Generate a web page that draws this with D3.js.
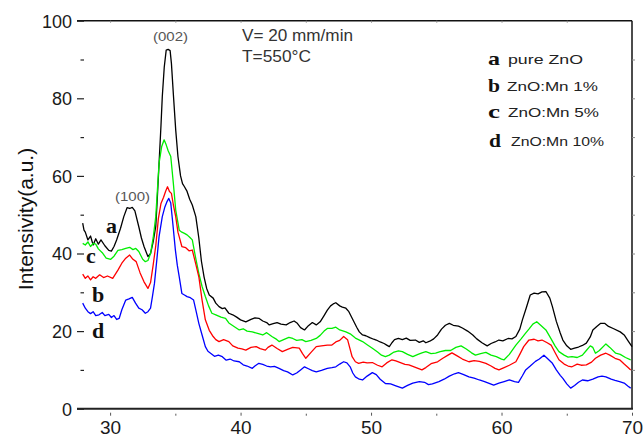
<html>
<head>
<script src="https://d3js.org/d3.v7.min.js"></script>
<style>
  body { margin: 0; background: #fff; }
  text { font-family: "Liberation Sans", Arial, sans-serif; }
  .letter { font-family: "Liberation Serif", "Times New Roman", serif; font-weight: bold; fill: #111; }
</style>
</head>
<body>
<svg width="644" height="439" id="chart"></svg>
<script>
  // XRD patterns, 2theta (deg) vs intensity (a.u.)
  var pureZnO = [[27.9,47.8],[28.0,46],[28.1,45.5],[28.3,43.5],[28.5,44.5],[28.7,42.2],[28.9,43.8],[29.1,42.4],[29.3,43.5],[29.6,42],[29.9,40.8],[30.1,40.6],[30.3,41.8],[30.5,43.5],[30.8,46.5],[31.05,49.5],[31.3,51.8],[31.5,51.6],[31.7,51.9],[31.9,51],[32.2,46.9],[32.4,44],[32.6,41.8],[32.9,39.2],[33.1,40],[33.3,43],[33.5,47],[33.6,53],[33.75,63],[33.9,73],[34.0,80.4],[34.15,88],[34.3,92.4],[34.45,92.6],[34.6,92.3],[34.7,89],[34.85,81],[35.03,71.8],[35.2,65],[35.4,60],[35.55,58],[35.7,57.2],[35.9,56],[36.1,54],[36.3,52.5],[36.57,49.5],[36.8,44],[37.0,38],[37.2,34],[37.4,31],[37.6,29.3],[37.9,28.5],[38.1,27.2],[38.35,26.3],[38.6,25.8],[38.8,26],[39.1,24.6],[39.4,24.2],[39.7,23.6],[40.0,22.9],[40.4,22.4],[40.8,23],[41.1,23.4],[41.4,23.3],[41.7,22.6],[42.0,22.2],[42.2,21.6],[42.5,21.9],[42.8,22.2],[43.1,21.8],[43.5,21.6],[43.8,22.2],[44.1,22.6],[44.35,22],[44.6,20.9],[44.9,20.3],[45.2,21.4],[45.5,22.2],[45.8,21.6],[46.1,22.4],[46.4,24],[46.65,25.4],[46.9,26.5],[47.1,27],[47.3,27.3],[47.6,26.5],[47.8,26.2],[48.07,25.9],[48.3,25],[48.6,23],[48.9,21],[49.1,19.8],[49.35,19],[49.6,18.8],[49.9,18.3],[50.2,17.9],[50.4,17.7],[50.7,17.2],[51.0,16.8],[51.2,16.4],[51.4,16],[51.6,17],[51.8,17.8],[52.1,18.1],[52.4,17.8],[52.7,18.2],[53.0,17.6],[53.4,17.7],[53.7,17.1],[54.0,17.5],[54.2,17],[54.5,17.4],[54.8,18],[55.1,19],[55.4,20.5],[55.7,21.5],[56.0,22],[56.3,21.5],[56.7,21.3],[57.0,20.8],[57.4,20],[57.8,19],[58.1,18],[58.5,17],[58.9,16.2],[59.2,16.8],[59.5,17.2],[59.8,17.7],[60.1,17.5],[60.5,18.1],[60.8,18],[61.1,18.6],[61.4,20.5],[61.6,22.9],[61.9,26],[62.2,29.3],[62.5,29.8],[62.8,29.6],[63.1,30.1],[63.4,30.2],[63.7,28.5],[63.9,26.3],[64.2,22.5],[64.5,19.5],[64.7,17.7],[65.0,16.2],[65.3,15.3],[65.6,15.6],[65.9,15.9],[66.2,16.3],[66.5,16.9],[66.8,18.5],[67.0,20.3],[67.3,21.2],[67.6,22],[67.9,22],[68.2,21.2],[68.6,20.6],[69.1,19.8],[69.4,19],[69.7,17.5],[70.0,16]];

  var mn1 = [[27.9,34.7],[28.1,33.6],[28.3,34.2],[28.5,33.2],[28.7,34],[28.9,33.6],[29.2,34.5],[29.5,33.8],[29.8,34.2],[30.2,33.6],[30.6,35.7],[30.9,37.5],[31.2,38.8],[31.5,39.6],[31.75,38.5],[32.0,37.9],[32.3,35],[32.6,32.7],[32.9,31],[33.1,32.5],[33.3,37],[33.5,42],[33.7,49],[33.9,52.9],[34.1,54.5],[34.25,56],[34.4,57.2],[34.55,56],[34.7,55.5],[34.85,52.5],[35.03,49.5],[35.2,45.5],[35.3,44.3],[35.5,41.8],[35.8,41.5],[36.05,40.7],[36.3,40.9],[36.55,37.5],[36.8,34],[37.05,28],[37.3,22.9],[37.6,20.2],[37.9,18.6],[38.1,17.8],[38.35,17.3],[38.7,17.8],[39.1,17.3],[39.4,16.2],[39.8,15.6],[40.1,15.4],[40.4,15.1],[40.8,15.8],[41.2,16],[41.5,15.5],[41.9,15.1],[42.1,15.8],[42.4,16.4],[42.8,15.5],[43.2,14.7],[43.6,15.3],[44.0,15.8],[44.5,15.6],[44.75,14.2],[45.0,13],[45.4,14.5],[45.8,16],[46.2,16.2],[46.65,16.4],[47.0,16.4],[47.3,17.2],[47.6,17.6],[47.9,18.6],[48.2,17.8],[48.55,13.4],[48.8,12.1],[49.05,11.7],[49.4,12],[49.7,11.8],[50.1,11.9],[50.5,11.2],[50.85,10.8],[51.2,11.8],[51.6,12.6],[51.9,12.3],[52.3,11.8],[52.6,11.4],[52.9,11.3],[53.3,10.8],[53.6,10.4],[53.9,10],[54.2,10.6],[54.6,11.6],[55.1,12.1],[55.5,13],[55.9,13.8],[56.2,14.4],[56.6,13.6],[57.0,12.8],[57.5,12.1],[57.9,12.4],[58.3,12.2],[58.8,11.7],[59.2,11],[59.5,10.4],[59.8,10],[60.2,10.6],[60.6,11.2],[61.1,12.1],[61.4,14],[61.7,16],[62.1,17.7],[62.5,17.9],[62.8,17.5],[63.1,17.7],[63.5,17],[63.8,16.4],[64.1,14.5],[64.4,12.6],[64.8,11.5],[65.1,11],[65.4,10.8],[65.8,11.5],[66.1,11.2],[66.5,11.3],[66.9,12],[67.2,13],[67.6,13.8],[68.0,14.3],[68.3,13.8],[68.7,13],[69.05,12.6],[69.4,11.5],[69.7,10.6],[69.9,10]];

  var mn5 = [[27.9,42.6],[28.1,42.2],[28.3,43],[28.5,41.8],[28.7,42.6],[28.9,42.4],[29.1,41.2],[29.4,40.2],[29.7,38.8],[30.05,38.5],[30.3,39.3],[30.6,40.8],[30.9,41],[31.2,41.3],[31.5,41.6],[31.75,41],[31.97,41.3],[32.2,40.5],[32.5,38.5],[32.7,37.9],[32.9,38.2],[33.1,40],[33.3,44],[33.5,49.5],[33.75,63.2],[33.95,67.5],[34.14,69.3],[34.3,68],[34.45,66.5],[34.65,65],[34.85,58],[35.03,51.2],[35.3,46],[35.5,45.5],[35.7,45.2],[35.9,44.8],[36.1,44.2],[36.3,43.5],[36.55,39],[36.8,34.9],[37.05,31.5],[37.3,28.9],[37.55,26.5],[37.8,24.6],[38.1,24.2],[38.5,23.6],[38.85,23.3],[39.1,22.1],[39.5,21.2],[39.9,20.3],[40.2,20.6],[40.5,20],[40.9,19.8],[41.3,19.4],[41.7,19],[42.0,19.6],[42.4,18.6],[42.7,18],[42.95,17.3],[43.3,17.8],[43.7,18.4],[44.0,18.1],[44.3,17.6],[44.7,17.8],[45.0,17.3],[45.4,17.6],[45.8,18.1],[46.1,18.9],[46.4,20],[46.65,20.7],[47.0,20.7],[47.3,21],[47.6,20.3],[48.07,19.8],[48.4,19.3],[48.8,18.2],[49.35,17.3],[49.7,16.5],[50.1,15.6],[50.5,14.6],[50.8,13.8],[51.1,13.4],[51.4,13.8],[51.7,14.5],[52.1,14.9],[52.4,14.7],[52.8,14],[53.2,13.4],[53.6,14],[53.9,14.4],[54.2,14.7],[54.6,14.2],[54.95,14.3],[55.3,14.7],[55.7,15],[56.1,15],[56.5,15.8],[56.9,16.2],[57.3,15.4],[57.7,14.4],[58.0,13.8],[58.4,14.2],[58.8,14.5],[59.2,13.8],[59.6,13.4],[60.0,12.8],[60.2,12.6],[60.6,14],[61.1,16.4],[61.5,18],[61.8,19.3],[62.1,20.5],[62.4,21.8],[62.7,22.4],[63.0,21.5],[63.4,20.3],[63.8,18],[64.1,16.2],[64.4,14.7],[64.8,13.8],[65.1,13.3],[65.4,13.4],[65.8,13.2],[66.2,13.8],[66.5,15],[66.8,16.2],[67.0,15.8],[67.2,14.3],[67.5,15],[68.0,16.7],[68.3,15.8],[68.75,14.3],[69.1,14],[69.5,13.2],[69.9,12.6]];

  var mn10 = [[27.9,27.2],[28.1,25.9],[28.3,25],[28.5,24.5],[28.7,25],[28.9,24],[29.15,24.2],[29.4,24.8],[29.6,24],[29.9,24.3],[30.1,23.5],[30.3,24],[30.5,23],[30.7,23.3],[30.9,25.5],[31.2,28],[31.45,28.3],[31.7,28.7],[31.95,27.2],[32.2,25.9],[32.45,25.5],[32.7,24.6],[32.9,25],[33.1,25.9],[33.25,29],[33.4,32.3],[33.6,39],[33.75,44.3],[34.0,49.5],[34.2,52],[34.35,53.3],[34.5,54.2],[34.65,53],[34.8,48],[35.0,41],[35.15,37],[35.3,34],[35.5,29.7],[35.7,29.3],[35.9,28.9],[36.15,28.6],[36.4,28],[36.6,25],[36.8,22],[37.05,19],[37.3,16],[37.5,14.8],[37.7,14.3],[38.0,13.5],[38.3,13.8],[38.6,13.4],[38.9,12.5],[39.2,12.8],[39.5,12.3],[39.9,12.1],[40.2,11.3],[40.5,11],[40.9,10.4],[41.1,11],[41.4,11.7],[41.7,11.4],[42.0,11],[42.3,10.8],[42.6,10.9],[42.95,10.4],[43.3,9.8],[43.6,9.5],[44.0,8.7],[44.3,9.2],[44.6,10],[44.9,10.8],[45.2,10.3],[45.5,9.8],[45.8,9.5],[46.2,9.9],[46.65,10.4],[47.0,10.6],[47.3,10.8],[47.6,11.5],[47.9,12.1],[48.15,11.8],[48.4,10.8],[48.6,9.2],[48.8,8.2],[49.1,7.6],[49.35,7.4],[49.7,8.4],[50.1,9.3],[50.4,8.8],[50.7,7.6],[51.1,6.5],[51.5,6.4],[51.9,5.9],[52.4,5.3],[52.8,6],[53.2,6.6],[53.7,7],[54.1,6.8],[54.4,6.2],[54.7,6.4],[55.2,7],[55.6,7.6],[56.0,8.4],[56.4,9],[56.7,9.3],[57.1,8.8],[57.5,8.2],[57.9,7.9],[58.3,7.4],[58.7,7],[59.0,6.6],[59.4,6.1],[59.8,6.6],[60.2,7],[60.6,7.4],[61.0,7],[61.3,6.8],[61.6,8.5],[61.85,10],[62.2,11],[62.6,12.2],[62.9,12.8],[63.25,13.8],[63.5,13],[63.9,11.7],[64.2,10],[64.5,8.6],[64.7,7.8],[65.0,6.4],[65.3,5.3],[65.6,6],[65.9,6.8],[66.2,7.4],[66.6,7.2],[67.0,7.6],[67.4,8.2],[67.7,8.4],[68.0,8.2],[68.4,7.6],[68.7,7.3],[69.05,7],[69.4,6.6],[69.7,5.8],[69.9,5.3]];

  var xTicks = [30, 40, 50, 60, 70];
  var yTicks = [0, 20, 40, 60, 80, 100];
  var legendKeys = ["a", "b", "c", "d"];
  var legendNames = ["pure ZnO", "ZnO:Mn 1%", "ZnO:Mn 5%", "ZnO:Mn 10%"];

  var svg = d3.select("#chart");
  var x = d3.scaleLinear().domain([28, 70]).range([84, 632]);
  var y = d3.scaleLinear().domain([0, 100]).range([408.7, 20.7]);

  // frame (no left spine in the original)
  svg.append("line").attr("x1", 77).attr("x2", 632).attr("y1", y(100)).attr("y2", y(100))
    .attr("stroke", "#111").attr("stroke-width", 1.5);
  svg.append("line").attr("x1", 632).attr("x2", 632).attr("y1", y(100)).attr("y2", y(0))
    .attr("stroke", "#111").attr("stroke-width", 1.5);

  // left axis
  var yAxis = svg.append("g").attr("transform", "translate(84,0)")
    .call(d3.axisLeft(y).tickValues(yTicks).tickSize(7).tickPadding(5).tickFormat(d3.format("d")));
  yAxis.select(".domain").remove();
  yAxis.selectAll("line").attr("stroke", "#222").attr("stroke-width", 1.2);
  yAxis.selectAll("text").attr("font-size", 18).attr("fill", "#1a1a1a")
    .attr("font-family", "Liberation Sans, Arial, sans-serif").attr("dy", "0.36em");
  var yMinor = svg.append("g").attr("transform", "translate(84,0)")
    .call(d3.axisLeft(y).tickValues([10, 30, 50, 70, 90]).tickSize(3.5).tickFormat(""));
  yMinor.select(".domain").remove();
  yMinor.selectAll("line").attr("stroke", "#222").attr("stroke-width", 1.2);

  // right inner ticks
  var yRight = svg.append("g").attr("transform", "translate(632,0)")
    .call(d3.axisLeft(y).tickValues([10, 20, 30, 40, 50, 60, 70, 80, 90]).tickSize(3).tickFormat(""));
  yRight.select(".domain").remove();
  yRight.selectAll("line").attr("stroke", "#888").attr("transform", "translate(3,0)");

  // bottom axis
  var xAxis = svg.append("g").attr("transform", "translate(0," + y(0) + ")")
    .call(d3.axisBottom(x).tickValues(xTicks).tickSize(3).tickPadding(9).tickFormat(d3.format("d")));
  xAxis.select(".domain").remove();
  xAxis.selectAll("line").attr("stroke", "#555").attr("transform", "translate(0,4)");
  xAxis.selectAll("text").attr("font-size", 19).attr("fill", "#1a1a1a")
    .attr("font-family", "Liberation Sans, Arial, sans-serif");
  var xMinor = svg.append("g").attr("transform", "translate(0," + y(0) + ")")
    .call(d3.axisBottom(x).tickValues([35, 45, 55, 65]).tickSize(2).tickFormat(""));
  xMinor.select(".domain").remove();
  xMinor.selectAll("line").attr("stroke", "#555").attr("transform", "translate(0,5)");
  svg.append("line").attr("x1", 77).attr("x2", 633).attr("y1", y(0)).attr("y2", y(0))
    .attr("stroke", "#222").attr("stroke-width", 2);

  // top inner ticks
  var xTop = svg.append("g").attr("transform", "translate(0," + y(100) + ")")
    .call(d3.axisBottom(x).tickValues([30, 35, 40, 45, 50, 55, 60, 65]).tickSize(2).tickFormat(""));
  xTop.select(".domain").remove();
  xTop.selectAll("line").attr("stroke", "#888");

  // axis title
  svg.append("text").attr("transform", "translate(33,219) rotate(-90)")
    .attr("text-anchor", "middle").attr("font-size", 21).attr("fill", "#111")
    .text("Intensivity(a.u.)");

  // curves
  var line = d3.line().x(function(d) { return x(d[0]); }).y(function(d) { return y(d[1]); });
  var series = [
    { data: pureZnO, color: "#000000" },
    { data: mn5, color: "#00ee00" },
    { data: mn1, color: "#ff0000" },
    { data: mn10, color: "#0000ff" }
  ];
  svg.selectAll("path.curve").data(series).enter().append("path")
    .attr("class", "curve")
    .attr("d", function(d) { return line(d.data); })
    .attr("fill", "none")
    .attr("stroke", function(d) { return d.color; })
    .attr("stroke-width", 1.3)
    .attr("stroke-linejoin", "round");

  // peak labels (the source text is stretched sideways)
  svg.append("text").attr("x", 115).attr("y", 201).attr("font-size", 12)
    .attr("textLength", 35).attr("lengthAdjust", "spacingAndGlyphs").attr("fill", "#555").text("(100)");
  svg.append("text").attr("x", 153).attr("y", 41).attr("font-size", 12)
    .attr("textLength", 35).attr("lengthAdjust", "spacingAndGlyphs").attr("fill", "#555").text("(002)");

  // conditions
  svg.append("text").attr("x", 242).attr("y", 41).attr("font-size", 16).attr("fill", "#333")
    .attr("textLength", 111).attr("lengthAdjust", "spacingAndGlyphs").text("V= 20 mm/min");
  svg.append("text").attr("x", 242).attr("y", 62).attr("font-size", 16).attr("fill", "#333")
    .attr("textLength", 69).attr("lengthAdjust", "spacingAndGlyphs").text("T=550°C");

  // curve letters
  var curveLetters = [["a", 106, 233], ["c", 86, 263], ["b", 92, 302], ["d", 92, 338]];
  svg.selectAll("text.curveLetter").data(curveLetters).enter().append("text")
    .attr("class", "letter curveLetter").attr("x", function(d) { return d[1]; })
    .attr("y", function(d) { return d[2]; }).attr("font-size", 22).text(function(d) { return d[0]; });

  // legend
  var legendY = [65, 92, 118, 147];
  var legendTextX = [508, 507, 508, 511];
  var legendTextW = [75, 91, 91, 93];
  var legendLetterX = [488, 488, 488, 489];
  legendKeys.forEach(function(k, i) {
    svg.append("text").attr("class", "letter").attr("x", legendLetterX[i]).attr("y", legendY[i])
      .attr("font-size", 19).attr("textLength", 12).attr("lengthAdjust", "spacingAndGlyphs").text(k);
    svg.append("text").attr("x", legendTextX[i]).attr("y", legendY[i] - 1)
      .attr("font-size", 13).attr("fill", "#222")
      .attr("textLength", legendTextW[i]).attr("lengthAdjust", "spacingAndGlyphs").text(legendNames[i]);
  });
</script>
</body>
</html>
